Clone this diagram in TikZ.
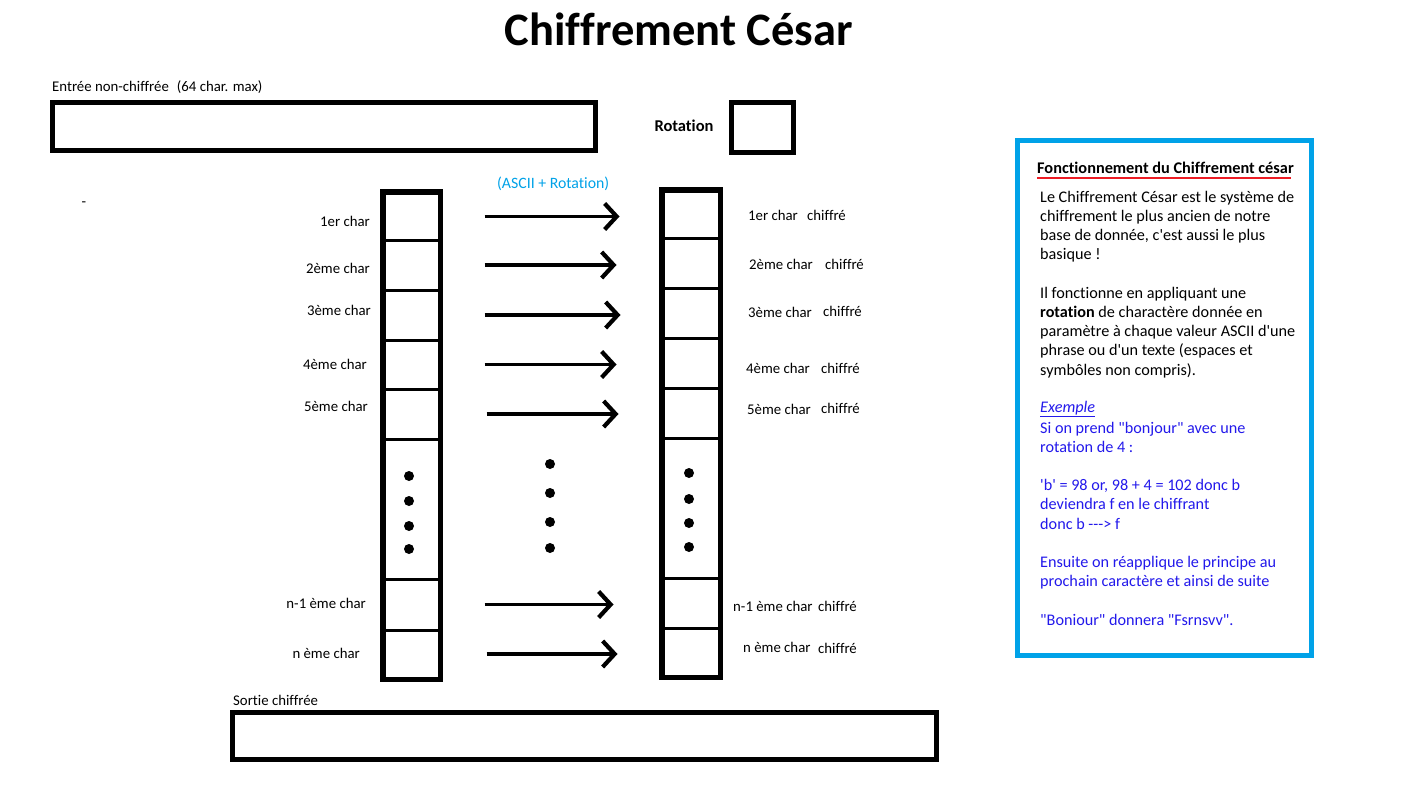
\documentclass[tikz,border=0pt]{standalone}
\usepackage{fontspec}
\setmainfont{Carlito}[Ligatures={TeXOff,NoCommon}]
\usetikzlibrary{arrows.meta,positioning}
\definecolor{paintblue}{RGB}{0,162,232}
\definecolor{notered}{RGB}{237,28,36}
\definecolor{exblue}{RGB}{35,25,235}

\tikzset{
  cell/.style={draw, line width=3pt, inner sep=0pt, minimum width=55pt},
  frame/.style={line width=5.5pt},
  champ/.style={draw, line width=5pt, inner sep=0pt},
  flow/.style={line width=3.5pt, -{Straight Barb[length=12pt,width=26pt,line width=4.2pt]}},
  lbl/.style={inner sep=0pt, font=\fontsize{14.8}{17}\selectfont},
  note/.style={inner sep=0pt, anchor=base west, align=left, font=\fontsize{16.2}{19.2}\selectfont},
  pastille/.style={circle, fill=black, inner sep=0pt, minimum size=10pt},
}

\begin{document}
\begin{tikzpicture}[x=1pt,y=-1pt]
\fill[white] (0,0) rectangle (1401,800);
\useasboundingbox (0,0) rectangle (1401,800);

% titre
\node[inner sep=0pt, anchor=base, font=\fontsize{46.5}{52}\selectfont\bfseries] (titre) at (679,46) {Chiffrement César};

% champs du haut
\node[lbl, anchor=base west] (lblentree) at (52,92) {Entrée non-chiffrée\hspace{8pt}(64 char. max)};
\node[champ, minimum width=543pt, minimum height=48pt] (entree) at (324,126.5) {};
\node[lbl, anchor=base, font=\fontsize{16.5}{18}\selectfont\bfseries] (lblrot) at (684,131) {Rotation};
\node[champ, minimum width=62.5pt, minimum height=50.5pt] (rot) at (762.5,127.5) {};
\node[lbl, anchor=base west, text=paintblue, font=\fontsize{15.8}{18}\selectfont] (ascii) at (497,188) {(ASCII + Rotation)};
\node[lbl] (tiret) at (84,204) {-};

% colonnes
\foreach \n/\a/\b in {1/193/240, 2/240/290, 3/290/340, 4/340/389, 5/389/439, 0/439/579, 6/579/630, 7/630/678}
  \node[cell, minimum height={(\b-\a)*1pt}] (l\n) at (411.5,{(\a+\b)/2}) {};
\foreach \n/\a/\b in {1/191/238, 2/238/288, 3/288/338, 4/338/388, 5/388/438, 0/438/578, 6/578/628, 7/628/676}
  \node[cell, minimum height={(\b-\a)*1pt}, minimum width=56pt] (r\n) at (691,{(\a+\b)/2}) {};
\draw[frame] (l1.north west) rectangle (l7.south east);
\draw[frame] (r1.north west) rectangle (r7.south east);

% fleches
\foreach \n/\s/\e in {1/44/42, 2/44/45, 3/44/41, 4/44/45, 5/46/43, 6/44/48, 7/46/44}
  \draw[flow, shorten <=\s pt, shorten >=\e pt] (l\n.east) -- (l\n.east -| r\n.west);

% points de suspension
\foreach \y in {476,501,526,549} \node[pastille] at (409,\y) {};
\foreach \y in {464,493,522,548} \node[pastille] at (550,\y) {};
\foreach \y in {473,499,523,547} \node[pastille] at (689,\y) {};

% etiquettes gauche
\foreach \n/\t/\x/\y in {1/1er char/370/224, 2/2ème char/370/271, 3/3ème char/371/313, 4/4ème char/367/367, 5/5ème char/368/409, 6/n-1 ème char/366/606, 7/n ème char/360/656}
  \node[lbl, anchor=mid east] (gauche\n) at (\x,\y) {\t};

% etiquettes droite
\foreach \n/\t/\x/\y/\cx/\cy in {1/1er char/748/218/807/218, 2/2ème char/749/267/825/267, 3/3ème char/748/315/823/314, 4/4ème char/746/371/821/371, 5/5ème char/747/412/821/411, 6/n-1 ème char/733/609/818/609, 7/n ème char/743/650/818/651}
  {\node[lbl, anchor=mid west] (droite\n) at (\x,\y) {\t};
   \node[lbl, anchor=mid west] (chiffre\n) at (\cx,\cy) {chiffré};}

% sortie
\node[lbl, anchor=base west] (lblsortie) at (233,705) {Sortie chiffrée};
\node[champ, minimum width=704pt, minimum height=47pt] (sortie) at (584.5,736) {};

% encadre explicatif
\draw[paintblue, line width=5pt] (1017.5,140.5) rectangle (1311.5,655.5);
\node[inner sep=0pt, anchor=base west, font=\fontsize{16.3}{18}\selectfont\bfseries] (notetitre) at (1037,173) {Fonctionnement du Chiffrement césar};
\draw[notered, line width=2.5pt] ([yshift=-5pt]notetitre.base west) -- ([yshift=-5pt,xshift=-3pt]notetitre.base east);
\node[note] (notetexte) at (1040,375)
  {Le Chiffrement César est le système de\\
   chiffrement le plus ancien de notre\\
   base de donnée, c'est aussi le plus\\
   basique !\\[19.2pt]
   Il fonctionne en appliquant une\\
   \textbf{rotation} de charactère donnée en\\
   paramètre à chaque valeur ASCII d'une\\
   phrase ou d'un texte (espaces et\\
   symbôles non compris).};
\node[note, text=exblue] (exemple) at (1040,412) {\underline{\textit{Exemple}}};
\node[note, text=exblue] (exempletexte) at (1040,625)
  {Si on prend "bonjour" avec une\\
   rotation de 4 :\\[19.2pt]
   'b' = 98 or, 98 + 4 = 102 donc b\\
   deviendra f en le chiffrant\\
   donc b ---> f\\[19.2pt]
   Ensuite on réapplique le principe au\\
   prochain caractère et ainsi de suite\\[19.2pt]
   "Boniour" donnera "Fsrnsvv".};
\end{tikzpicture}
\end{document}
